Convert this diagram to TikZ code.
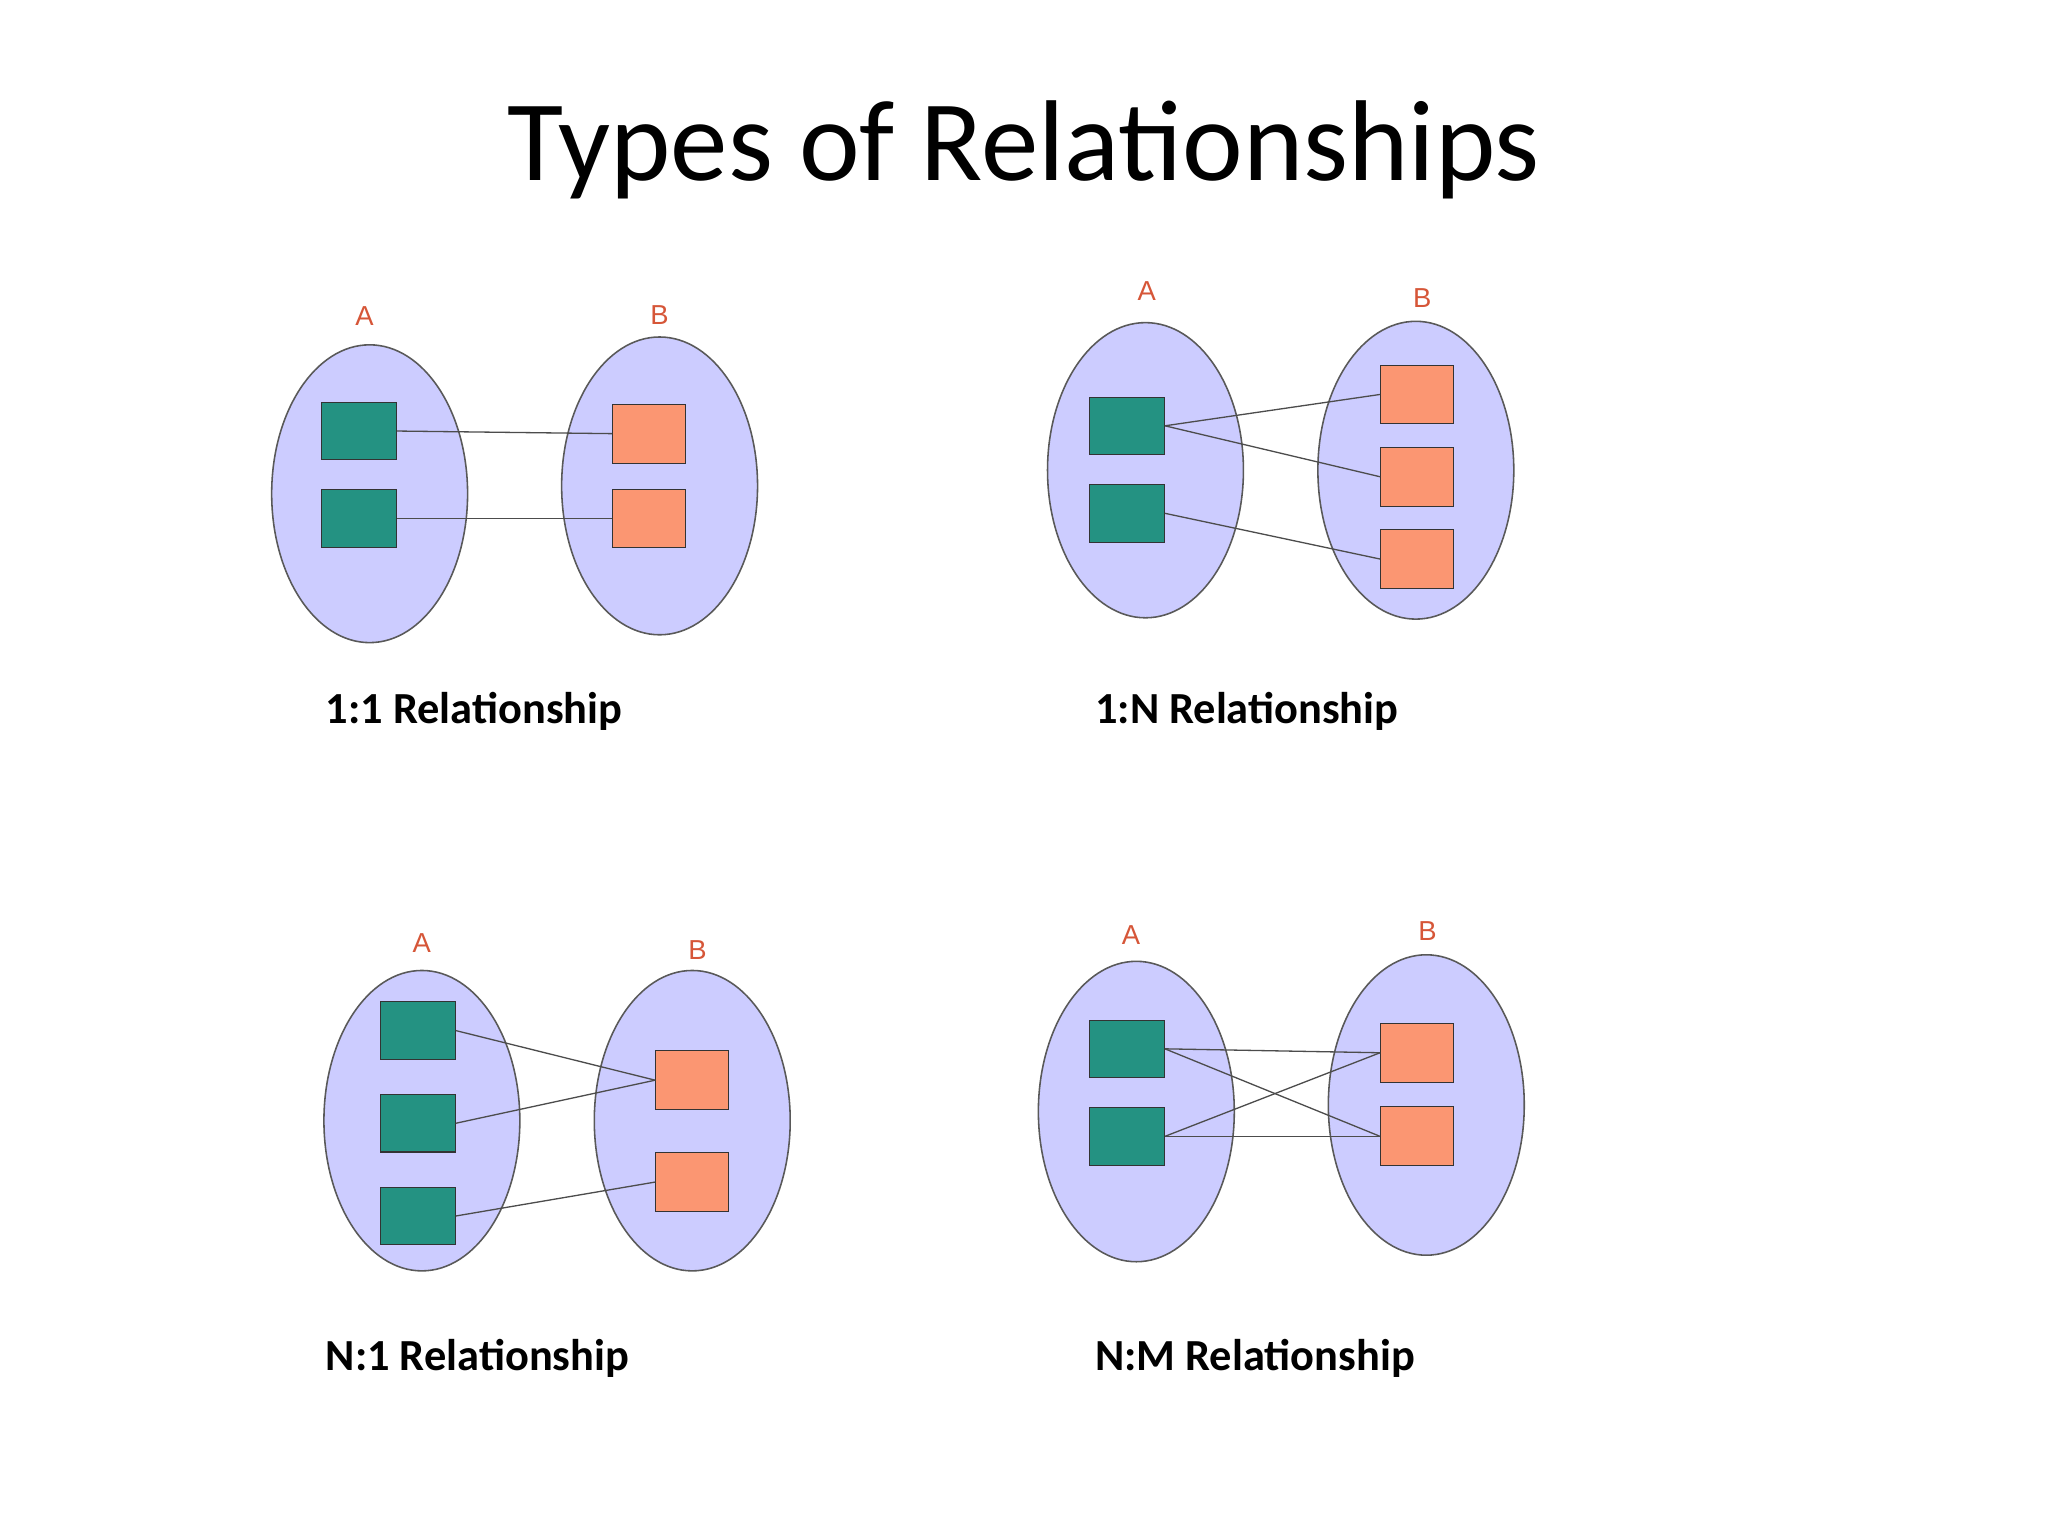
\documentclass[tikz,border=0pt]{standalone}
\usepackage{fontspec}
\setmainfont{Carlito}
\setsansfont{Liberation Sans}
\begin{document}
\begin{tikzpicture}[x=1pt,y=-1pt]
\definecolor{lav}{RGB}{204,204,255}
\definecolor{tealb}{RGB}{36,146,130}
\definecolor{orb}{RGB}{251,150,114}
\definecolor{lbl}{RGB}{214,86,56}
\tikzset{
 setshape/.style={draw=black!65,fill=lav,line width=1.2pt},
 abox/.style={draw=black!80,fill=tealb,minimum width=57pt,minimum height=44pt,inner sep=0pt,line width=0.8pt},
 bbox/.style={draw=black!80,fill=orb,minimum width=56pt,minimum height=45pt,inner sep=0pt,line width=0.8pt},
 setlab/.style={font=\sffamily\fontsize{21}{21}\selectfont,text=lbl},
 captext/.style={font=\bfseries\fontsize{34}{34}\selectfont,anchor=west},
 link/.style={draw=black!70,line width=1pt}
}
\useasboundingbox[fill=white] (0,0) rectangle (1568,1176);
\node[font=\fontsize{88}{88}\selectfont] (title) at (784,115) {Types of Relationships};
% panel 1
\draw[setshape] (283,378) ellipse (75 and 114);
\draw[setshape] (505,372) ellipse (75 and 114);
\node[setlab] (la1) at (279,242) {A};
\node[setlab] (lb1) at (505,241) {B};
\node[abox] (p1a1) at (275,330) {};
\node[abox] (p1a2) at (275,397) {};
\node[bbox] (p1b1) at (497,332) {};
\node[bbox] (p1b2) at (497,397) {};
\draw[link] (p1a1.east) -- (p1b1.west);
\draw[link] (p1a2.east) -- (p1b2.west);
\node[captext] (c1) at (246,545) {1:1 Relationship};
% panel 2
\draw[setshape] (877,360) ellipse (75 and 113);
\draw[setshape] (1084,360) ellipse (75 and 114);
\node[setlab] (la2) at (878,223) {A};
\node[setlab] (lb2) at (1089,228) {B};
\node[abox] (p2a1) at (863,326) {};
\node[abox] (p2a2) at (863,393) {};
\node[bbox] (p2b1) at (1085,302) {};
\node[bbox] (p2b2) at (1085,365) {};
\node[bbox] (p2b3) at (1085,428) {};
\draw[link] (p2a1.east) -- (p2b1.west);
\draw[link] (p2a1.east) -- (p2b2.west);
\draw[link] (p2a2.east) -- (p2b3.west);
\node[captext] (c2) at (835,545) {1:N Relationship};
% panel 3
\draw[setshape] (323,858) ellipse (75 and 115);
\draw[setshape] (530,858) ellipse (75 and 115);
\node[setlab] (la3) at (323,722) {A};
\node[setlab] (lb3) at (534,727) {B};
\node[abox] (p3a1) at (320,789) {};
\node[abox] (p3a2) at (320,860) {};
\node[abox] (p3a3) at (320,931) {};
\node[bbox] (p3b1) at (530,827) {};
\node[bbox] (p3b2) at (530,905) {};
\draw[link] (p3a1.east) -- (p3b1.west);
\draw[link] (p3a2.east) -- (p3b1.west);
\draw[link] (p3a3.east) -- (p3b2.west);
\node[captext] (c3) at (246,1040) {N:1 Relationship};
% panel 4
\draw[setshape] (870,851) ellipse (75 and 115);
\draw[setshape] (1092,846) ellipse (75 and 115);
\node[setlab] (la4) at (866,716) {A};
\node[setlab] (lb4) at (1093,713) {B};
\node[abox] (p4a1) at (863,803) {};
\node[abox] (p4a2) at (863,870) {};
\node[bbox] (p4b1) at (1085,806) {};
\node[bbox] (p4b2) at (1085,870) {};
\draw[link] (p4a1.east) -- (p4b1.west);
\draw[link] (p4a1.east) -- (p4b2.west);
\draw[link] (p4a2.east) -- (p4b1.west);
\draw[link] (p4a2.east) -- (p4b2.west);
\node[captext] (c4) at (835,1040) {N:M Relationship};
\end{tikzpicture}
\end{document}
